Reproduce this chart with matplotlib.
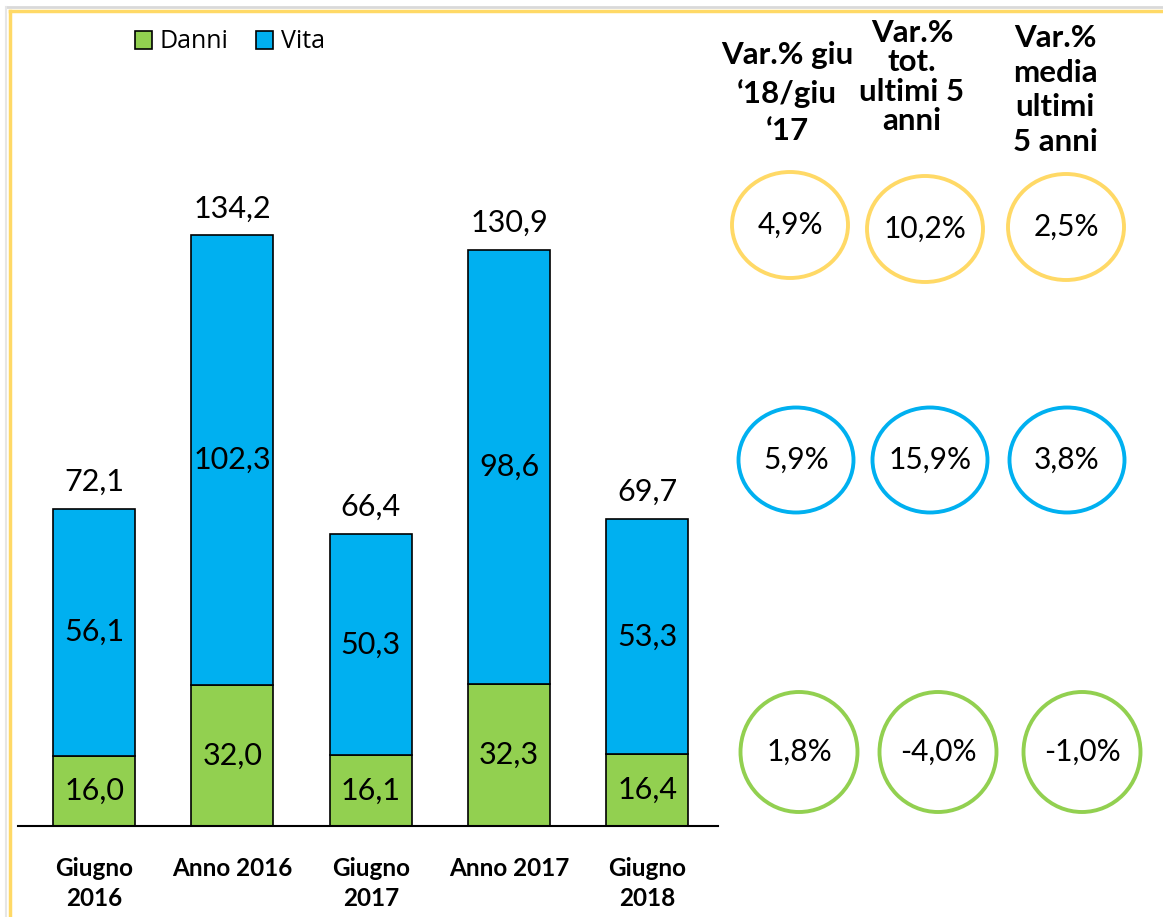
import matplotlib
matplotlib.use("Agg")
import matplotlib.pyplot as plt
from matplotlib.patches import Ellipse, Patch
import numpy as np

# ---------------------------------------------------------------------------
# Data
# ---------------------------------------------------------------------------
categories = ["Giugno\n2016", "Anno 2016", "Giugno\n2017", "Anno 2017", "Giugno\n2018"]
danni = [16.0, 32.0, 16.1, 32.3, 16.4]
vita = [56.1, 102.3, 50.3, 98.6, 53.3]
totals = [72.1, 134.2, 66.4, 130.9, 69.7]

headers = ["Var.% giu\n\u201818/giu\n\u201817",
           "Var.%\ntot.\nultimi 5\nanni",
           "Var.%\nmedia\nultimi\n5 anni"]
var_total = ["4,9%", "10,2%", "2,5%"]
var_vita = ["5,9%", "15,9%", "3,8%"]
var_danni = ["1,8%", "-4,0%", "-1,0%"]

GREEN = "#92D050"
BLUE = "#00B0F0"
YELLOW = "#FFD966"
FONT = "Lato"

W, H = 1163, 917
fig = plt.figure(figsize=(W / 100, H / 100), dpi=100)
fig.patch.set_facecolor("white")


def fmt(v):
    return f"{v:.1f}".replace(".", ",")


# ---------------------------------------------------------------------------
# Stacked bars (pixel-placed axes)
# ---------------------------------------------------------------------------
ax_left, ax_right, ax_base, ax_top = 18, 718, 826, 20
ax = fig.add_axes([ax_left / W, (H - ax_base) / H,
                   (ax_right - ax_left) / W, (ax_base - ax_top) / H])
x = np.arange(len(categories))
bw = 0.593
ax.bar(x, danni, bw, color=GREEN, edgecolor="black", linewidth=1.2, zorder=2)
ax.bar(x, vita, bw, bottom=danni, color=BLUE, edgecolor="black", linewidth=1.2, zorder=2)
ax.set_xlim(-0.55, 4.51)
ax.set_ylim(0, (ax_base - ax_top) / 4.40)

for i in range(len(x)):
    ax.text(x[i], danni[i] / 2, fmt(danni[i]), ha="center", va="center",
            fontsize=22, family=FONT)
    ax.text(x[i], danni[i] + vita[i] / 2, fmt(vita[i]), ha="center", va="center",
            fontsize=22, family=FONT)
    ax.text(x[i], totals[i] + 3.0, fmt(totals[i]), ha="center", va="bottom",
            fontsize=22, family=FONT)

for s in ["top", "right", "left"]:
    ax.spines[s].set_visible(False)
ax.spines["bottom"].set_linewidth(1.5)
ax.set_yticks([])
ax.set_xticks(x)
ax.set_xticklabels(categories, fontsize=17.5, fontweight="bold", family=FONT,
                   linespacing=1.4, va="top")
ax.tick_params(axis="x", length=0, pad=22)
ax.patch.set_alpha(0)

handles = [Patch(facecolor=GREEN, edgecolor="black", linewidth=1.2, label="Danni"),
           Patch(facecolor=BLUE, edgecolor="black", linewidth=1.2, label="Vita")]
fig.legend(handles=handles, loc="center left", bbox_to_anchor=(112 / W, 1 - 42 / H),
           ncol=2, frameon=False, handlelength=0.7, handleheight=0.7,
           handletextpad=0.3, columnspacing=1.1, prop={"family": "Open Sans", "size": 18})

# ---------------------------------------------------------------------------
# Overlay in pixel coordinates: frame, headers, circles
# ---------------------------------------------------------------------------
ov = fig.add_axes([0, 0, 1, 1])
ov.set_xlim(0, W)
ov.set_ylim(H, 0)
ov.axis("off")
ov.patch.set_alpha(0)

ov.plot([6, W], [7, 7], color="#D9D9D9", lw=2)
ov.plot([6, 6], [7, H], color="#E6E6E6", lw=1.5)
ov.plot([9.5, W], [10.5, 10.5], color=YELLOW, lw=2.5)
ov.plot([9.5, 9.5], [10.5, H], color=YELLOW, lw=2.5)

header_pos = [(787, 93, 1.40), (912, 77, 1.07), (1055, 90, 1.30)]
for txt, (hx, hy, ls) in zip(headers, header_pos):
    ov.text(hx, hy, txt, ha="center", va="center", fontsize=22.5, fontweight="bold",
            family=FONT, linespacing=ls)

rows = [
    (var_total, YELLOW, [(790, 225), (925, 229), (1066, 227)], (116, 106)),
    (var_vita, BLUE, [(796, 460), (930, 460), (1067, 460)], (115, 105)),
    (var_danni, GREEN, [(799, 752), (938, 752), (1082, 752)], (117, 120)),
]
for vals, col, centers, (ew, eh) in rows:
    for v, (cx, cy) in zip(vals, centers):
        ov.add_patch(Ellipse((cx, cy), ew, eh, facecolor="none", edgecolor=col, lw=2.8))
        ov.text(cx, cy, v, ha="center", va="center", fontsize=21.5, family=FONT)

fig.savefig("out.png", dpi=100)
